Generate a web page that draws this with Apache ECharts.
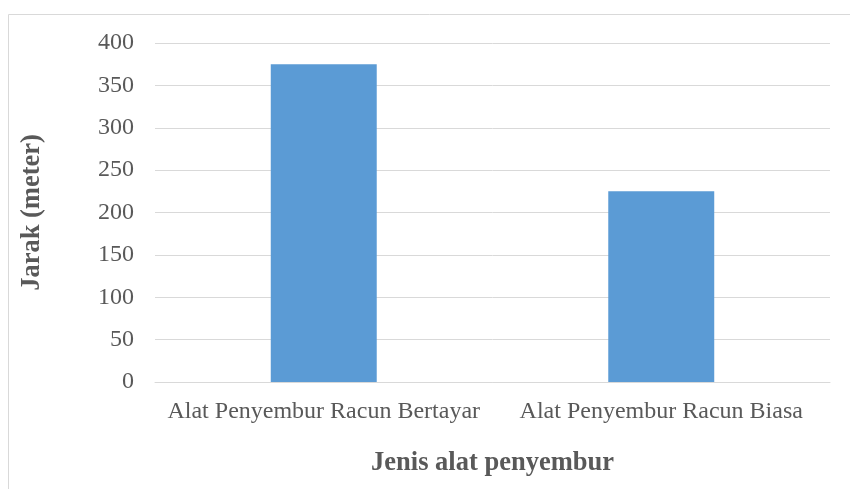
<!DOCTYPE html>
<html>
<head>
<meta charset="utf-8">
<script src="https://cdn.jsdelivr.net/npm/echarts@6/dist/echarts.min.js"></script>
<style>
  html, body { margin: 0; padding: 0; background: #fff; }
  #chart { width: 850px; height: 489px; }
</style>
</head>
<body>
<div id="chart"></div>
<script>
const categories = ["Alat Penyembur Racun Bertayar", "Alat Penyembur Racun Biasa"];
const jarak = [375, 225];

const textColor = "#595959";
const fontFamily = "'Liberation Serif', 'Times New Roman', serif";

const chart = echarts.init(document.getElementById("chart"));
chart.setOption({
  animation: false,
  textStyle: { fontFamily: fontFamily },
  graphic: [
    {
      type: "rect",
      shape: { x: 8.5, y: 14.5, width: 900, height: 600 },
      style: { fill: "none", stroke: "#d9d9d9", lineWidth: 1 },
      silent: true,
    },
  ],
  grid: {
    left: 155, right: 20, top: 43, bottom: 107,
    containLabel: false,
    outerBoundsMode: "none",
  },
  xAxis: {
    type: "category",
    data: categories,
    name: "Jenis alat penyembur",
    nameLocation: "middle",
    nameGap: 68,
    nameMoveOverlap: false,
    nameTextStyle: { color: textColor, fontSize: 26.5, fontWeight: "bold", fontFamily: fontFamily },
    axisLine: { lineStyle: { color: "#d9d9d9", width: 1 } },
    axisTick: { show: false },
    axisLabel: { color: textColor, fontSize: 24, margin: 18, interval: 0, fontFamily: fontFamily },
  },
  yAxis: {
    type: "value",
    min: 0,
    max: 400,
    interval: 50,
    name: "Jarak (meter)",
    nameLocation: "middle",
    nameGap: 109,
    nameMoveOverlap: false,
    nameRotate: 90,
    nameTextStyle: { color: textColor, fontSize: 26.5, fontWeight: "bold", fontFamily: fontFamily },
    axisLine: { show: false },
    axisTick: { show: false },
    axisLabel: { color: textColor, fontSize: 24, margin: 21, fontFamily: fontFamily },
    splitLine: { lineStyle: { color: "#d9d9d9", width: 1 } },
  },
  series: [
    {
      type: "bar",
      data: jarak,
      barWidth: "31.4%",
      itemStyle: { color: "#5b9bd5" },
    },
  ],
});
</script>
</body>
</html>
